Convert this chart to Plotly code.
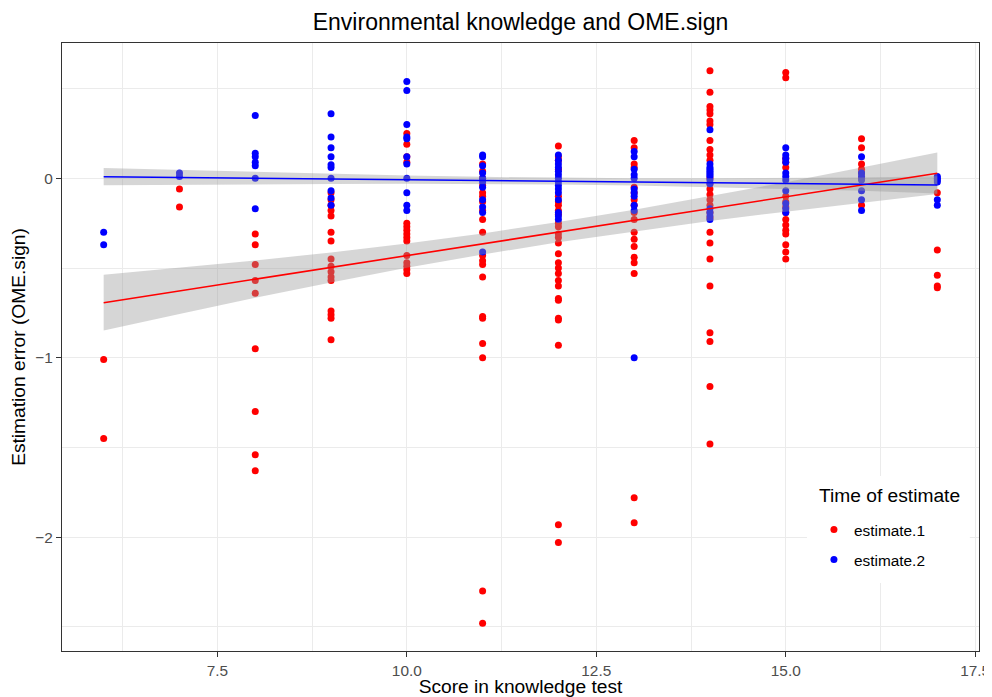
import plotly.graph_objects as go

# ---------------- data ----------------
scores = [6, 7, 8, 9, 10, 11, 12, 13, 14, 15, 16, 17]

# estimate.1 (red) errors per knowledge-test score
e1_s6 = [-1.01, -1.45]
e1_s7 = [-0.06, -0.16]
e1_s8 = [-0.31, -0.37, -0.48, -0.57, -0.64, -0.95, -1.30, -1.54, -1.63]
e1_s9 = [-0.08, -0.12, -0.15, -0.18, -0.21, -0.30, -0.35, -0.45, -0.49, -0.52,
         -0.55, -0.57, -0.74, -0.76, -0.78, -0.90]
e1_s10 = [0.25, 0.19, 0.12, 0.09, -0.25, -0.27, -0.29, -0.31, -0.33, -0.35,
          -0.43, -0.47, -0.49, -0.51, -0.53]
e1_s11 = [0.08, 0.04, 0.00, -0.04, -0.08, -0.10, -0.13, -0.18, -0.23, -0.30,
          -0.43, -0.46, -0.48, -0.55, -0.77, -0.78, -0.92, -1.00, -2.30, -2.48]
e1_s12 = [0.18, 0.12, 0.10, 0.05, -0.10, -0.13, -0.15, -0.18, -0.20, -0.25,
          -0.27, -0.31, -0.33, -0.36, -0.42, -0.47, -0.50, -0.53, -0.57, -0.60,
          -0.67, -0.68, -0.78, -0.79, -0.93, -1.93, -2.03]
e1_s13 = [0.21, 0.17, 0.08, 0.06, -0.05, -0.08, -0.12, -0.15, -0.19, -0.23,
          -0.30, -0.34, -0.38, -0.44, -0.47, -0.53, -1.78, -1.92]
e1_s14 = [0.60, 0.48, 0.40, 0.38, 0.36, 0.32, 0.30, 0.21, 0.16, 0.13, 0.10,
          0.00, -0.03, -0.06, -0.09, -0.12, -0.15, -0.19, -0.22, -0.30, -0.36,
          -0.45, -0.60, -0.86, -0.91, -1.16, -1.48]
e1_s15 = [0.59, 0.56, 0.11, 0.09, 0.06, -0.10, -0.13, -0.16, -0.19, -0.23,
          -0.26, -0.29, -0.31, -0.37, -0.41, -0.45]
e1_s16 = [0.22, 0.17, 0.08, 0.05, 0.03, 0.00, -0.15]
e1_s17 = [-0.08, -0.40, -0.54, -0.60, -0.61]

# estimate.2 (blue) errors per knowledge-test score
e2_s6 = [-0.30, -0.37]
e2_s7 = [0.03, 0.01]
e2_s8 = [0.35, 0.14, 0.12, 0.09, 0.07, 0.00, -0.17]
e2_s9 = [0.36, 0.23, 0.17, 0.12, 0.075, 0.06, 0.00, -0.07, -0.11, -0.15]
e2_s10 = [0.54, 0.49, 0.30, 0.23, 0.22, 0.12, 0.08, 0.00, -0.08, -0.15, -0.18]
e2_s11 = [0.13, 0.12, 0.07, 0.03, 0.00, -0.02, -0.05, -0.12, -0.16, -0.19, -0.41]
e2_s12 = [0.13, 0.10, 0.08, 0.06, 0.04, 0.02, 0.00, -0.02, -0.04, -0.06, -0.08,
          -0.12, -0.19, -0.21, -0.23]
e2_s13 = [0.15, 0.12, 0.05, 0.02, 0.00, -0.06, -0.08, -0.10, -0.15, -0.18, -1.00]
e2_s14 = [0.27, 0.08, 0.06, 0.05, 0.04, 0.03, 0.02, 0.01, -0.01, -0.03, -0.17,
          -0.19, -0.21, -0.23]
e2_s15 = [0.17, 0.13, 0.11, 0.09, 0.03, 0.01, -0.01, -0.07, -0.14, -0.17, -0.19]
e2_s16 = [0.12, 0.03, 0.01, -0.01, -0.07, -0.12, -0.18]
e2_s17 = [0.01, 0.00, -0.01, -0.02, -0.12, -0.15]

# linear fits (lm) with 95% confidence band
fit_x = [6, 17]
e1_fit = [-0.693, 0.028]
e2_fit = [0.009, -0.037]
band_x = [6, 7, 8, 9, 10, 11, 12, 13, 14, 15, 16, 17]
e1_hi = [-0.538, -0.500, -0.458, -0.413, -0.363, -0.307, -0.244, -0.175, -0.100, -0.022, 0.060, 0.144]
e1_lo = [-0.848, -0.756, -0.666, -0.581, -0.499, -0.425, -0.356, -0.295, -0.238, -0.186, -0.136, -0.088]
e2_hi = [0.057, 0.046, 0.035, 0.024, 0.015, 0.008, 0.003, 0.000, 0.000, 0.001, 0.004, 0.011]
e2_lo = [-0.039, -0.036, -0.033, -0.032, -0.031, -0.032, -0.035, -0.040, -0.048, -0.059, -0.070, -0.085]

series_names = ["estimate.1", "estimate.2"]
legend_title = "Time of estimate"
# ------------------------------------------------------------------------

e1_cols = [e1_s6, e1_s7, e1_s8, e1_s9, e1_s10, e1_s11, e1_s12, e1_s13, e1_s14, e1_s15, e1_s16, e1_s17]
e2_cols = [e2_s6, e2_s7, e2_s8, e2_s9, e2_s10, e2_s11, e2_s12, e2_s13, e2_s14, e2_s15, e2_s16, e2_s17]


def flatten(cols):
    xs, ys = [], []
    for s, vals in zip(scores, cols):
        xs += [s] * len(vals)
        ys += vals
    return xs, ys


e1_x, e1_y = flatten(e1_cols)
e2_x, e2_y = flatten(e2_cols)

RED = "#FF0000"
BLUE = "#0000FF"
FONT = "Liberation Sans, Arial, Helvetica, sans-serif"

fig = go.Figure()

fig.add_trace(go.Scatter(x=e1_x, y=e1_y, mode="markers", name=series_names[0],
                         legendgroup="e1",
                         marker=dict(color=RED, size=7, line=dict(width=0))))
fig.add_trace(go.Scatter(x=e2_x, y=e2_y, mode="markers", name=series_names[1],
                         legendgroup="e2",
                         marker=dict(color=BLUE, size=7, line=dict(width=0))))

for hi, lo in [(e1_hi, e1_lo), (e2_hi, e2_lo)]:
    fig.add_trace(go.Scatter(x=band_x + band_x[::-1], y=hi + lo[::-1],
                             mode="lines", fill="toself",
                             fillcolor="rgba(153,153,153,0.4)",
                             line=dict(width=0), hoverinfo="skip",
                             showlegend=False))

fig.add_trace(go.Scatter(x=fit_x, y=e1_fit, mode="lines", showlegend=False,
                         line=dict(color=RED, width=1.6)))
fig.add_trace(go.Scatter(x=fit_x, y=e2_fit, mode="lines", showlegend=False,
                         line=dict(color=BLUE, width=1.6)))

axis_common = dict(
    showline=True, linecolor="#333333", linewidth=1.1, mirror=True,
    ticks="outside", ticklen=5, tickwidth=1, tickcolor="#333333",
    tickfont=dict(family=FONT, size=15.4, color="#4D4D4D"),
    gridcolor="#EBEBEB", gridwidth=1.2, zeroline=False, automargin=False,
)

# the page adds an 8px body margin, so the figure is sized to fit the window
fig.update_layout(
    width=984, height=689,
    template="none",
    paper_bgcolor="white", plot_bgcolor="white",
    margin=dict(l=54, r=13, t=35, b=46),
    font=dict(family=FONT, color="black"),
    title=dict(text="Environmental knowledge and OME.sign", x=0.5, xref="paper",
               xanchor="center", y=0.9797, yref="container", yanchor="middle",
               font=dict(family=FONT, size=23, color="black")),
    xaxis=dict(range=[5.45, 17.55], tick0=0, dtick=2.5, tickformat=".1f",
               title=dict(text="Score in knowledge test", standoff=7,
                          font=dict(family=FONT, size=19.2, color="black")),
               minor=dict(tick0=0, dtick=1.25, showgrid=True, gridcolor="#EBEBEB",
                          gridwidth=0.6, ticks=""),
               **axis_common),
    yaxis=dict(range=[-2.634, 0.754], tick0=0, dtick=1,
               title=dict(text="Estimation error (OME.sign)", standoff=4,
                          font=dict(family=FONT, size=19.2, color="black")),
               minor=dict(tick0=0, dtick=0.5, showgrid=True, gridcolor="#EBEBEB",
                          gridwidth=0.6, ticks=""),
               **axis_common),
    legend=dict(x=0.820, y=0.227, xanchor="left", yanchor="top",
                bgcolor="white", borderwidth=0, tracegroupgap=7,
                font=dict(family=FONT, size=15.4, color="black")),
    showlegend=True,
    shapes=[dict(type="rect", xref="paper", yref="paper",
                 x0=0.8124, x1=0.990, y0=0.1118, y1=0.2878,
                 fillcolor="white", line=dict(width=0), layer="above")],
    annotations=[dict(text=legend_title, xref="paper", yref="paper",
                      x=0.8233, y=0.2554, xanchor="left", yanchor="middle",
                      showarrow=False,
                      font=dict(family=FONT, size=19.2, color="black"))],
)

fig.write_html("out.html")
